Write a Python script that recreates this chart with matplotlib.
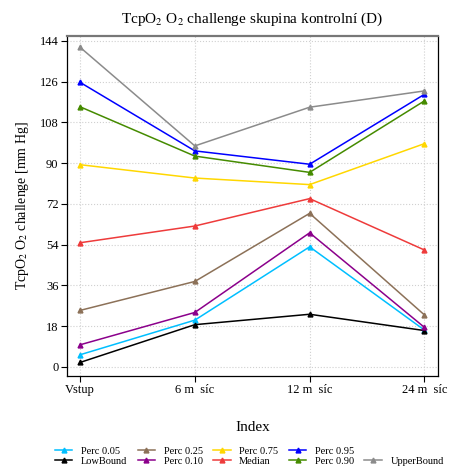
import matplotlib
matplotlib.use("Agg")
import matplotlib.pyplot as plt
from matplotlib.lines import Line2D

plt.rcParams['font.family'] = ['Liberation Serif', 'DejaVu Serif']
plt.rcParams['mathtext.fontset'] = 'stix'

categories = ["Vstup", "6 m  síc", "12 m  síc", "24 m  síc"]
yticks = [0, 18, 36, 54, 72, 90, 108, 126, 144]

upper_bound = [141.2, 97.6, 114.7, 121.9]
perc_095 = [125.7, 95.4, 89.5, 120.4]
perc_090 = [114.9, 93.1, 85.9, 117.5]
perc_075 = [89.3, 83.4, 80.5, 98.6]
median = [54.8, 62.2, 74.3, 51.6]
perc_025 = [24.9, 37.7, 67.8, 22.9]
perc_010 = [9.7, 24.0, 59.2, 17.4]
perc_005 = [5.3, 20.6, 53.0, 16.2]
low_bound = [1.9, 18.6, 23.2, 16.0]

series = [
    ("Perc 0.05", perc_005, "#00BFFF"),
    ("LowBound", low_bound, "#000000"),
    ("Perc 0.25", perc_025, "#8C7158"),
    ("Perc 0.10", perc_010, "#8B008B"),
    ("Perc 0.75", perc_075, "#FFD700"),
    ("Median", median, "#EE3B3B"),
    ("Perc 0.95", perc_095, "#0000FF"),
    ("Perc 0.90", perc_090, "#458B00"),
    ("UpperBound", upper_bound, "#8B8B8B"),
]

fig = plt.figure(figsize=(4.52, 4.73), dpi=100)
ax = fig.add_axes([0.1476, 0.205, 0.8214, 0.7195])

x = list(range(len(categories)))
handles = []
for name, vals, col in series:
    ax.plot(x, vals, color=col, lw=1.1, marker='^', markersize=3.5, zorder=3)
    handles.append(Line2D([], [], color=col, lw=1.1, marker='^', markersize=3.5, label=name))

ax.set_xlim(-0.116, 3.118)
ax.set_ylim(-4.1, 146.3)
ax.set_xticks(x)
ax.set_xticklabels(categories, fontsize=9)
ax.set_yticks(yticks)
ax.set_yticklabels([str(t) for t in yticks], fontsize=9)
ax.grid(True, color='#d0d0d0', linestyle=':', lw=0.8)
ax.tick_params(direction='out', length=4, width=0.8, pad=2)

for s in ['left', 'bottom', 'right']:
    ax.spines[s].set_color('black')
    ax.spines[s].set_linewidth(0.9)
ax.spines['top'].set_color('#777777')
ax.spines['top'].set_linewidth(1.6)

ax.set_title(r"TcpO$_2$ O$_2$ challenge skupina kontrolní (D)", fontsize=11, pad=9)
ax.set_ylabel(r"TcpO$_2$ O$_2$ challenge [mm Hg]", fontsize=10, labelpad=6)
ax.set_xlabel("Index", fontsize=11, labelpad=18)

# empty slot so UpperBound lands in the second row of the last column
blank = Line2D([], [], color='none', label=' ')
leg_handles = handles[:8] + [blank, handles[8]]
fig.legend(handles=leg_handles, loc='lower left', bbox_to_anchor=(0.105, 0.0),
           ncol=5, fontsize=7.5, frameon=False, handlelength=1.7,
           handletextpad=0.8, columnspacing=1.0, labelspacing=0.05,
           borderaxespad=0.3)

fig.savefig("out.png", dpi=100)
